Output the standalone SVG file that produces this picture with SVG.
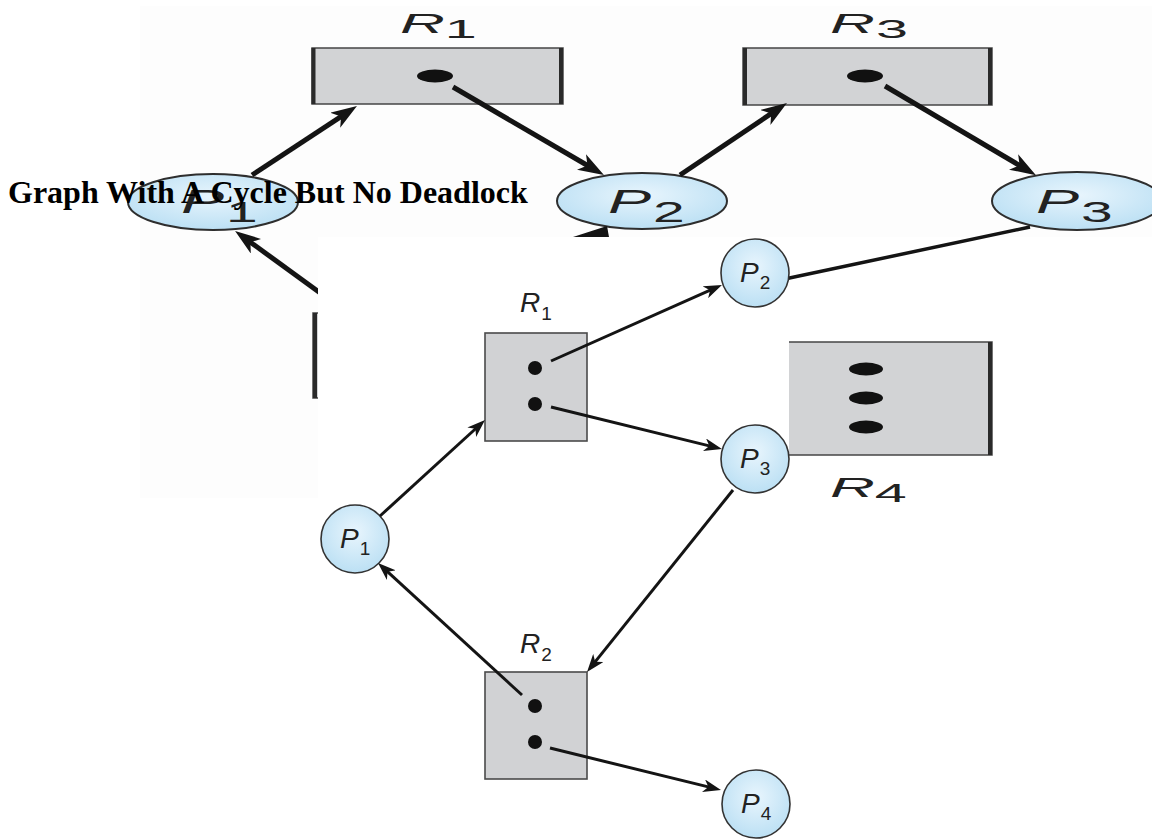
<svg xmlns="http://www.w3.org/2000/svg" width="1152" height="840" viewBox="0 0 1152 840">
<defs>
<style>
.bgrect{fill:#d2d3d5;stroke:#454545;stroke-width:1.5}
.side{stroke:#2a2a2a;stroke-width:4}
.bgproc{fill:url(#gb);stroke:#2e2e2e;stroke-width:2}
.proc{fill:url(#gb);stroke:#333;stroke-width:1.6}
.rect{fill:#d1d2d4;stroke:#4a4a4a;stroke-width:1.6}
.dot{fill:#111}
.bgedge{stroke:#141414;stroke-width:5;fill:none;marker-end:url(#bah)}
.edge{stroke:#141414;stroke-width:3;fill:none;marker-end:url(#ah)}
.lbl{font-family:"Liberation Sans",Arial,sans-serif;font-style:italic;fill:#222}
.sub{font-style:normal}
.title{font-family:"Liberation Serif","Times New Roman",serif;font-weight:bold;font-size:32px;fill:#000}
</style>
<radialGradient id="gb" cx="50%" cy="40%" r="65%"><stop offset="0" stop-color="#e8f5fd"/><stop offset="1" stop-color="#b8def3"/></radialGradient>
<marker id="ah" viewBox="0 0 18 13" refX="7" refY="6.5" markerWidth="18" markerHeight="13" markerUnits="userSpaceOnUse" orient="auto"><path d="M0,0 L18,6.5 L0,13 L5,6.5 z" fill="#141414"/></marker>
<marker id="bah" viewBox="0 0 26 18" refX="10" refY="9" markerWidth="26" markerHeight="18" markerUnits="userSpaceOnUse" orient="auto"><path d="M0,0 L26,9 L0,18 L7,9 z" fill="#141414"/></marker>
</defs>
<rect width="1152" height="840" fill="#fff"/>
<g id="bg-backdrop">
<rect x="140" y="6" width="1012" height="231" fill="#fdfdfd"/>
<rect x="140" y="237" width="178" height="261" fill="#fdfdfd"/>
</g>
<g id="bg-R1">
<rect class="bgrect" x="312" y="48" width="251" height="56"/>
<line class="side" x1="313.5" y1="48" x2="313.5" y2="104" stroke-width="3"/>
<line class="side" x1="561" y1="48" x2="561" y2="104"/>
<ellipse class="dot" cx="435" cy="76" rx="18" ry="6.5"/>
<text class="lbl" transform="translate(400,33) scale(2.3,1)" font-size="27">R<tspan class="sub" font-size="25" dx="0" dy="5">1</tspan></text>
</g>
<g id="bg-R3">
<rect class="bgrect" x="743" y="48" width="249" height="57"/>
<line class="side" x1="745" y1="48" x2="745" y2="105"/>
<line class="side" x1="990" y1="48" x2="990" y2="105"/>
<ellipse class="dot" cx="865" cy="76" rx="18" ry="6.5"/>
<text class="lbl" transform="translate(830,33) scale(2.3,1)" font-size="27">R<tspan class="sub" font-size="25" dx="0.5" dy="5">3</tspan></text>
</g>
<g id="bg-R4">
<rect class="bgrect" x="770" y="342" width="222" height="113"/>
<line class="side" x1="990" y1="342" x2="990" y2="455"/>
<ellipse class="dot" cx="866" cy="369" rx="17" ry="6.5"/>
<ellipse class="dot" cx="866" cy="398" rx="17" ry="6.5"/>
<ellipse class="dot" cx="866" cy="427" rx="17" ry="6.5"/>
<text class="lbl" transform="translate(830,497) scale(2.3,1)" font-size="27">R<tspan class="sub" font-size="25" dx="0" dy="5">4</tspan></text>
</g>
<g id="bg-R2">
<rect class="bgrect" x="313" y="313" width="200" height="85"/>
<line class="side" x1="315" y1="313" x2="315" y2="398"/>
</g>
<g id="bg-P1">
<ellipse class="bgproc" cx="213" cy="202" rx="85" ry="28"/>
<text class="lbl" transform="translate(181,213) scale(1.9,1)" font-size="34">P<tspan class="sub" font-size="30" dx="1" dy="9">1</tspan></text>
</g>
<g id="bg-P2">
<ellipse class="bgproc" cx="642" cy="201" rx="85" ry="28"/>
<text class="lbl" transform="translate(608,213) scale(1.9,1)" font-size="34">P<tspan class="sub" font-size="30" dx="1" dy="9">2</tspan></text>
</g>
<g id="bg-P3">
<ellipse class="bgproc" cx="1077" cy="201" rx="85" ry="29"/>
<text class="lbl" transform="translate(1036,213) scale(1.9,1)" font-size="34">P<tspan class="sub" font-size="30" dx="1" dy="9">3</tspan></text>
</g>
<g id="bg-connectors">
<path class="bgedge" d="M252,175 L343.6,114.8"/>
<path class="bgedge" d="M453,87 L590.1,167"/>
<path class="bgedge" d="M680,175 L773.7,111.9"/>
<path class="bgedge" d="M885,86 L1022.2,167"/>
<path class="bgedge" d="M334,303 L248,240.4"/>
<path d="M1030,227 L780,280" stroke="#141414" stroke-width="3.5" fill="none"/>
<polygon points="573,237 607,226 609,237" fill="#141414"/>
</g>
<rect id="panel" x="318" y="237" width="471" height="603" fill="#fff"/>
<g id="R1">
<rect class="rect" x="485" y="333" width="102" height="108"/>
<circle class="dot" cx="535" cy="368" r="7"/>
<circle class="dot" cx="535" cy="404" r="7"/>
<text class="lbl" x="520" y="312" font-size="28">R<tspan class="sub" font-size="19" dx="1" dy="8">1</tspan></text>
</g>
<g id="R2">
<rect class="rect" x="485" y="672" width="102" height="107"/>
<circle class="dot" cx="535" cy="706" r="7"/>
<circle class="dot" cx="535" cy="742" r="7"/>
<text class="lbl" x="520" y="653" font-size="28">R<tspan class="sub" font-size="19" dx="1" dy="8">2</tspan></text>
</g>
<g id="P1">
<circle class="proc" cx="355" cy="539" r="34"/>
<text class="lbl" x="340" y="548" font-size="28">P<tspan class="sub" font-size="19" dx="1" dy="7">1</tspan></text>
</g>
<g id="P2">
<circle class="proc" cx="755" cy="273" r="34"/>
<text class="lbl" x="740" y="282" font-size="28">P<tspan class="sub" font-size="19" dx="1" dy="7">2</tspan></text>
</g>
<g id="P3">
<circle class="proc" cx="755" cy="459" r="34"/>
<text class="lbl" x="740" y="468" font-size="28">P<tspan class="sub" font-size="19" dx="1" dy="7">3</tspan></text>
</g>
<g id="P4">
<circle class="proc" cx="756" cy="804" r="34"/>
<text class="lbl" x="741" y="813" font-size="28">P<tspan class="sub" font-size="19" dx="1" dy="7">4</tspan></text>
</g>
<g id="connectors">
<path class="edge" d="M380,516 L476.9,427.5"/>
<path class="edge" d="M551,361 L711.9,289.4"/>
<path class="edge" d="M551,407 L711.3,446.4"/>
<path class="edge" d="M733,490 L593.9,663.4"/>
<path class="edge" d="M522,695 L386.1,570.4"/>
<path class="edge" d="M550,748 L710.3,787.4"/>
</g>
<g id="title">
<text class="title" x="8" y="203">Graph With A Cycle But No Deadlock</text>
</g>
</svg>
